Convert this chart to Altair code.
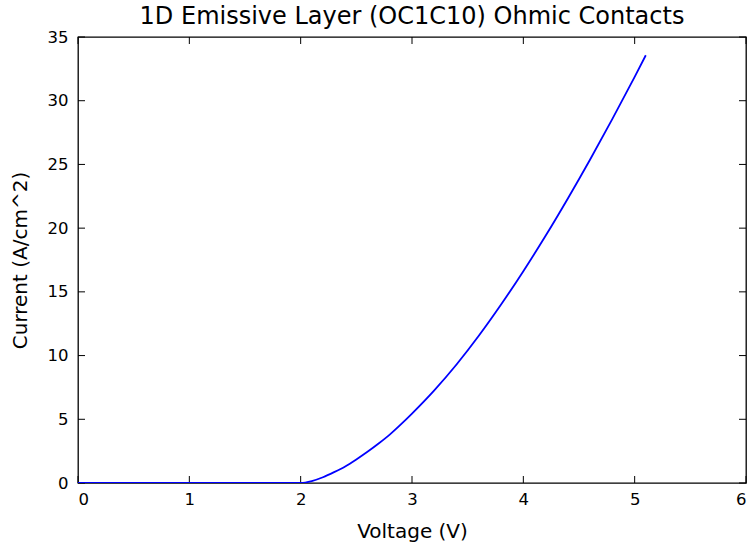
import altair as alt
import pandas as pd

# Current density vs. applied voltage for the OC1C10 emissive layer
voltage = [0.0, 0.5, 1.0, 1.5, 2.0, 2.1, 2.2, 2.3, 2.4, 2.5, 2.6, 2.7, 2.8, 2.9,
           3.0, 3.2, 3.4, 3.6, 3.8, 4.0, 4.2, 4.4, 4.6, 4.8, 5.0, 5.1]
current = [0.0, 0.0, 0.0, 0.0, 0.0, 0.15, 0.45, 0.85, 1.3, 1.85, 2.45, 3.1, 3.8, 4.6,
           5.45, 7.27, 9.3, 11.55, 14.0, 16.62, 19.4, 22.33, 25.39, 28.57, 31.87, 33.57]

x_ticks = [0, 1, 2, 3, 4, 5, 6]
y_ticks = [0, 5, 10, 15, 20, 25, 30, 35]
x_lim = [0, 6]
y_lim = [0, 35]

W, H = 668, 446
TICK = 7
FONT = "DejaVu Sans"

xscale = alt.Scale(domain=x_lim, nice=False, zero=False)
yscale = alt.Scale(domain=y_lim, nice=False, zero=False)

# Inward ticks on all four sides: full-length rules dashed so that only a
# short stub survives at either end, against the frame.
x_stub = [TICK, H - 2 * TICK, TICK, 10 * H]
y_stub = [TICK, W - 2 * TICK, TICK, 10 * W]

line = alt.Chart(alt.Data(values=[{"V": v, "I": i} for v, i in zip(voltage, current)])).mark_line(
    color="#0000ff", strokeWidth=1.8, clip=True, interpolate="monotone").encode(
    x=alt.X("V:Q", scale=xscale, title="Voltage (V)",
            axis=alt.Axis(values=x_ticks, format="d", ticks=False, domain=False,
                          grid=False, labelPadding=8, titlePadding=14)),
    y=alt.Y("I:Q", scale=yscale, title="Current (A/cm^2)",
            axis=alt.Axis(values=y_ticks, format="d", ticks=False, domain=False,
                          grid=False, labelPadding=10, titlePadding=17)),
)

xstubs = alt.Chart(alt.Data(values=[{"tx": t} for t in x_ticks])).mark_rule(
    stroke="black", strokeWidth=1, strokeDash=x_stub, opacity=1).encode(
    x=alt.X("tx:Q", scale=xscale))
ystubs = alt.Chart(alt.Data(values=[{"ty": t} for t in y_ticks])).mark_rule(
    stroke="black", strokeWidth=1, strokeDash=y_stub, opacity=1).encode(
    y=alt.Y("ty:Q", scale=yscale))

chart = alt.layer(xstubs, ystubs, line).properties(
    width=W,
    height=H,
    title=alt.TitleParams("1D Emissive Layer (OC1C10) Ohmic Contacts", fontSize=24,
                          font=FONT, fontWeight="normal", color="black",
                          anchor="middle", offset=0),
    autosize=alt.AutoSizeParams(type="none"),
    padding={"left": 78, "top": 37, "right": 8, "bottom": 64},
    background="white",
).configure_axis(
    labelFont=FONT, labelFontSize=16.5, labelColor="black",
    titleFont=FONT, titleFontSize=20, titleColor="black", titleFontWeight="normal",
).configure_view(stroke="black", strokeWidth=1.3)

chart.save("out.html", embed_options={"renderer": "svg", "actions": False})
